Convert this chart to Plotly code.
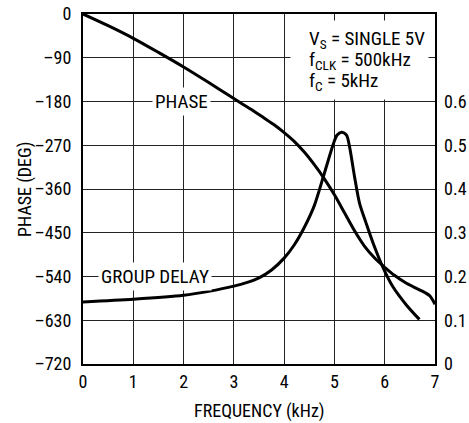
import plotly.graph_objects as go

# ---- data ----
freq_phase = [0.0, 0.5, 1.0, 1.5, 2.0, 2.5, 3.0, 3.2, 3.4, 3.6, 3.8, 4.0, 4.2, 4.4, 4.6, 4.8, 5.0, 5.2, 5.4, 5.6, 5.8, 6.0, 6.2, 6.4, 6.6, 6.8, 6.9, 7.0]
phase_deg = [0, -24, -50, -79, -109, -141, -174, -187, -200, -214, -228, -244, -262, -284, -310, -339, -372, -409, -446, -478, -502, -521, -538, -552, -563, -573, -580, -597]

freq_gd = [0.0, 1.0, 2.0, 2.5, 3.0, 3.25, 3.5, 3.75, 4.0, 4.2, 4.4, 4.6, 4.8, 4.97, 5.05, 5.14, 5.24, 5.3, 5.4, 5.5, 5.63, 5.77, 5.96, 6.16, 6.43, 6.69]
group_delay = [0.142, 0.148, 0.157, 0.166, 0.178, 0.186, 0.197, 0.215, 0.242, 0.272, 0.312, 0.362, 0.436, 0.5, 0.523, 0.53, 0.523, 0.497, 0.428, 0.367, 0.322, 0.276, 0.222, 0.177, 0.135, 0.102]

x_ticks = [0, 1, 2, 3, 4, 5, 6, 7]
phase_ticks = [0, -90, -180, -270, -360, -450, -540, -630, -720]
phase_ticktext = ["0", "\u201390", "\u2013180", "\u2013270", "\u2013360", "\u2013450", "\u2013540", "\u2013630", "\u2013720"]
gd_ticks = [0, 0.1, 0.2, 0.3, 0.4, 0.5, 0.6]
gd_ticktext = ["0", "0.1", "0.2", "0.3", "0.4", "0.5", "0.6"]
condition_lines = ["V<sub>S</sub> = SINGLE 5V", "f<sub>CLK</sub> = 500kHz", "f<sub>C</sub> = 5kHz"]

FONT = "Liberation Sans Narrow, Roboto Condensed, Arial Narrow, Liberation Sans, sans-serif"
FS_TICK = 18
FS_TITLE = 18
FS_ANN = 19

fig = go.Figure()
fig.add_trace(go.Scatter(x=freq_phase, y=phase_deg, mode="lines",
                         line=dict(color="black", width=3, shape="spline", smoothing=0.8),
                         showlegend=False, yaxis="y", hoverinfo="skip"))
fig.add_trace(go.Scatter(x=freq_gd, y=group_delay, mode="lines",
                         line=dict(color="black", width=3, shape="spline", smoothing=0.8),
                         showlegend=False, yaxis="y2", hoverinfo="skip"))

# white box behind the condition text
fig.add_annotation(xref="x", yref="y", x=4.11, y=-12.3, xanchor="left", yanchor="top",
                   text=" ", width=137, height=78, bgcolor="white", borderpad=0,
                   showarrow=False, font=dict(family=FONT, size=FS_ANN))
cond_y = [-52, -95, -138]
for txt, yy in zip(condition_lines, cond_y):
    fig.add_annotation(xref="x", yref="y", x=4.45, y=yy, xanchor="left", yanchor="middle",
                       text=txt, showarrow=False, align="left",
                       font=dict(family=FONT, size=FS_ANN, color="black"))

fig.add_annotation(xref="x", yref="y", x=1.96, y=-180, text="PHASE", showarrow=False,
                   bgcolor="white", borderpad=2, font=dict(family=FONT, size=FS_ANN, color="black"))
fig.add_annotation(xref="x", yref="y", x=1.44, y=-540, text="GROUP DELAY", showarrow=False,
                   bgcolor="white", borderpad=2, font=dict(family=FONT, size=FS_ANN, color="black"))

# axis titles
fig.add_annotation(xref="paper", yref="paper", x=0.5, y=-0.134, xanchor="center", yanchor="middle",
                   text="FREQUENCY (kHz)", showarrow=False,
                   font=dict(family=FONT, size=FS_TITLE, color="black"))
fig.add_annotation(xref="paper", yref="paper", x=-0.165, y=0.5, xanchor="center", yanchor="middle",
                   text="PHASE (DEG)", textangle=-90, showarrow=False,
                   font=dict(family=FONT, size=FS_TITLE, color="black"))

fig.update_layout(
    width=469, height=423,
    margin=dict(l=83, r=34, t=14, b=59, autoexpand=False),
    paper_bgcolor="white", plot_bgcolor="rgba(0,0,0,0)",
    font=dict(family=FONT, size=FS_TICK, color="black"),
    xaxis=dict(range=[0, 7], tickvals=x_ticks, ticktext=[str(v) for v in x_ticks],
               showgrid=True, gridcolor="#222", gridwidth=1.2, zeroline=False,
               showline=True, linecolor="black", linewidth=2, mirror=True,
               ticks="", automargin=False),
    yaxis=dict(range=[-720, 0], tickvals=phase_ticks, ticktext=phase_ticktext,
               showgrid=True, gridcolor="#222", gridwidth=1.2, zeroline=False,
               showline=True, linecolor="black", linewidth=2, mirror=True,
               ticks="", ticklabelstandoff=6, automargin=False),
    yaxis2=dict(range=[0, 0.8], overlaying="y", side="right", tickvals=gd_ticks, ticktext=gd_ticktext,
                showgrid=False, zeroline=False, showline=False, ticks="", ticklabelstandoff=8,
                automargin=False),
)

fig.write_html("out.html", config={"displayModeBar": False},
               post_script="document.body.style.margin='0';")
